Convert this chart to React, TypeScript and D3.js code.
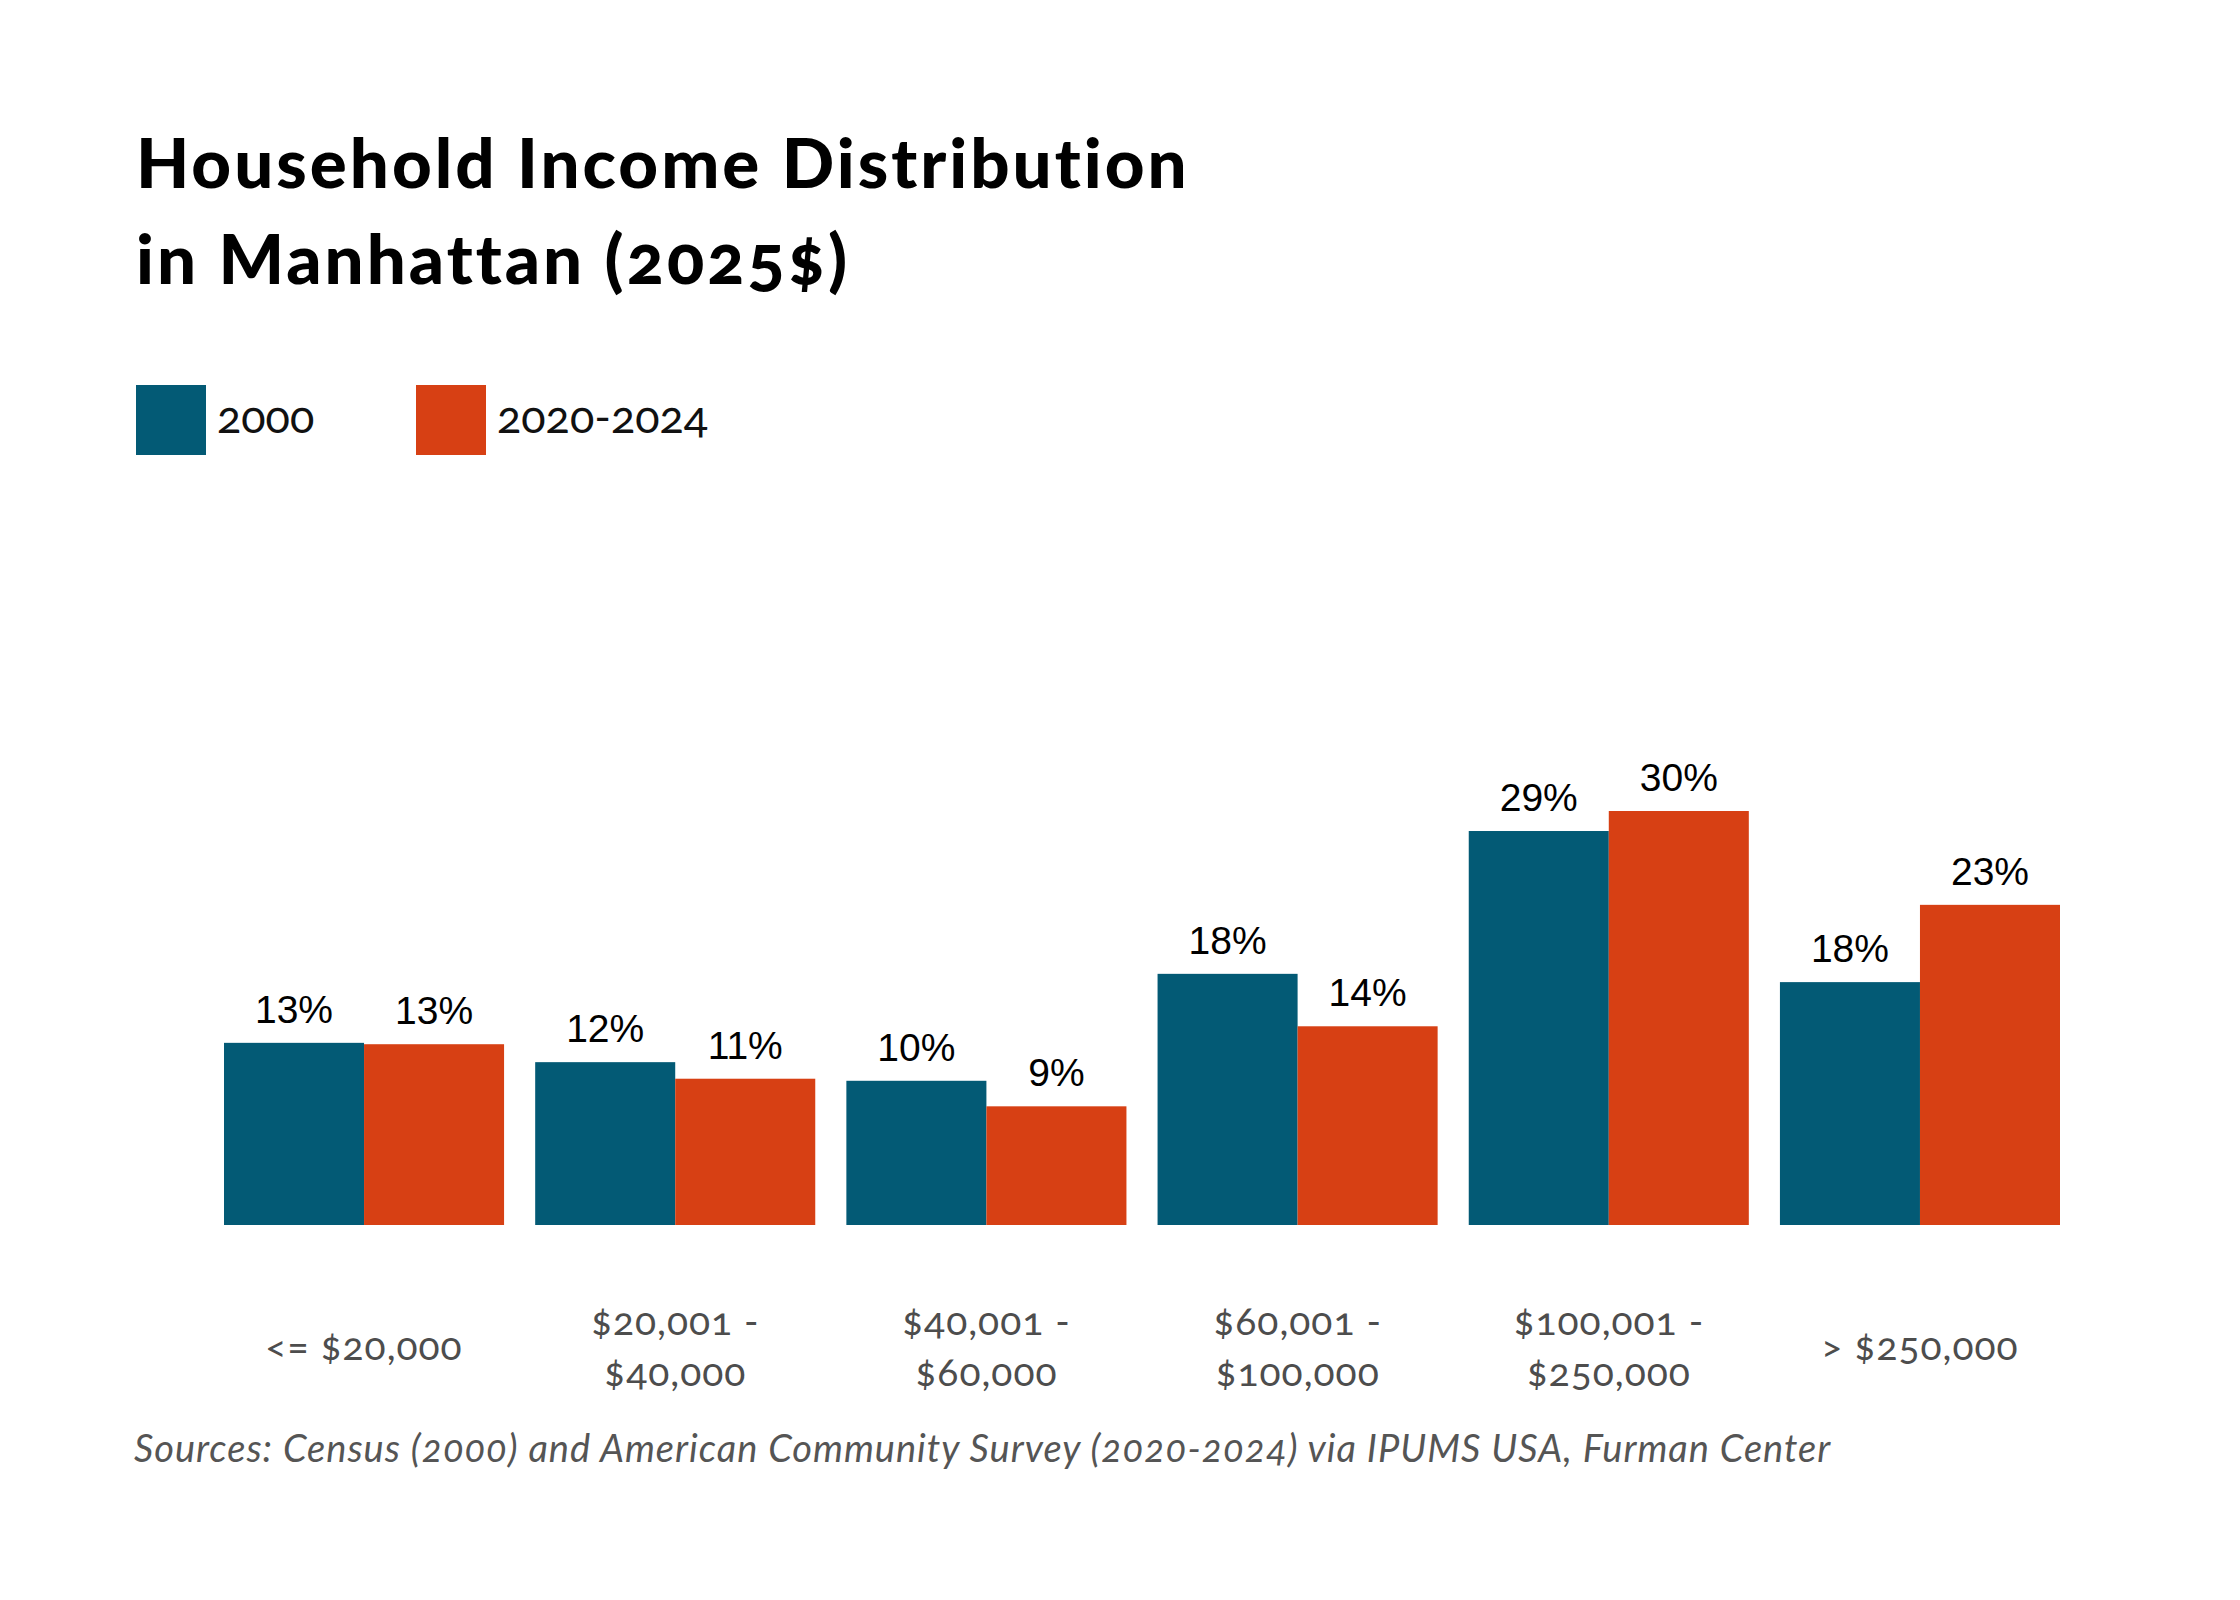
import React from 'react';
import * as d3 from 'd3';

const categories = ['<= $20,000', '$20,001 - $40,000', '$40,001 - $60,000', '$60,001 - $100,000', '$100,001 - $250,000', '> $250,000'];
const categoryLines = [
  ['<= $20,000'],
  ['$20,001 -', '$40,000'],
  ['$40,001 -', '$60,000'],
  ['$60,001 -', '$100,000'],
  ['$100,001 -', '$250,000'],
  ['> $250,000'],
];
const seriesNames = ['2000', '2020-2024'];
const values2000 = [13.2, 11.8, 10.45, 18.2, 28.55, 17.6];
const values2024 = [13.1, 10.6, 8.6, 14.4, 30.0, 23.2];

const colors = ['#035a75', '#d74014'];
const W = 2240;
const H = 1600;

export default function App() {
  const x0 = d3.scaleBand<string>().domain(categories).range([224, 2060]).paddingInner(0.1);
  const x1 = d3.scaleBand<string>().domain(seriesNames).range([0, x0.bandwidth()]);
  const y = d3.scaleLinear().domain([0, 30]).range([1225, 811]);

  const series = [values2000, values2024];
  const fmt = (v: number) => `${Math.round(v)}%`;
  const sans = 'Lato, "Open Sans", sans-serif';
  const oldstyle = { fontVariantNumeric: 'oldstyle-nums' };

  return (
    <div style={{ position: 'absolute', left: 0, top: 0 }}>
      <svg width={W} height={H} viewBox={`0 0 ${W} ${H}`} style={{ display: 'block', background: '#fff' }}>
        {/* title */}
        <g fontFamily={sans} fontWeight={900} fontSize={69} fill="#000" letterSpacing={3} style={oldstyle}>
          <text x={136} y={188}>Household Income Distribution</text>
          <text x={136} y={284}>in Manhattan (2025$)</text>
        </g>

        {/* legend */}
        {seriesNames.map((s, i) => (
          <g key={s} transform={`translate(${136 + i * 280},385)`}>
            <rect width={70} height={70} fill={colors[i]} />
            <text x={81} y={48} fontFamily={sans} fontSize={45} fill="#111" style={oldstyle}>{s}</text>
          </g>
        ))}

        {/* bars */}
        {categories.map((c, ci) => (
          <g key={c} transform={`translate(${x0(c)},0)`}>
            {seriesNames.map((s, si) => {
              const v = series[si][ci];
              const bx = x1(s) as number;
              return (
                <g key={s}>
                  <rect x={bx} y={y(v)} width={x1.bandwidth()} height={y(0) - y(v)} fill={colors[si]} />
                  <text x={bx + x1.bandwidth() / 2} y={y(v) - 20} textAnchor="middle"
                    fontFamily='"Liberation Sans", Arial, sans-serif' fontSize={39} fill="#000">{fmt(v)}</text>
                </g>
              );
            })}
          </g>
        ))}

        {/* category labels */}
        {categories.map((c, ci) => {
          const cx = (x0(c) as number) + x0.bandwidth() / 2;
          const lines = categoryLines[ci];
          return (
            <text key={c} textAnchor="middle" fontFamily={sans} fontSize={39} fill="#4d4d4d"
              letterSpacing={1} style={oldstyle}>
              {lines.map((l, li) => (
                <tspan key={li} x={cx} y={lines.length === 1 ? 1360 : 1335 + li * 51}>{l}</tspan>
              ))}
            </text>
          );
        })}

        {/* source */}
        <text x={134} y={1462} fontFamily={sans} fontStyle="italic" fontSize={38} fill="#555"
          letterSpacing={1} style={oldstyle}>
          Sources: Census (2000) and American Community Survey (2020-2024) via IPUMS USA, Furman Center
        </text>
      </svg>
    </div>
  );
}
